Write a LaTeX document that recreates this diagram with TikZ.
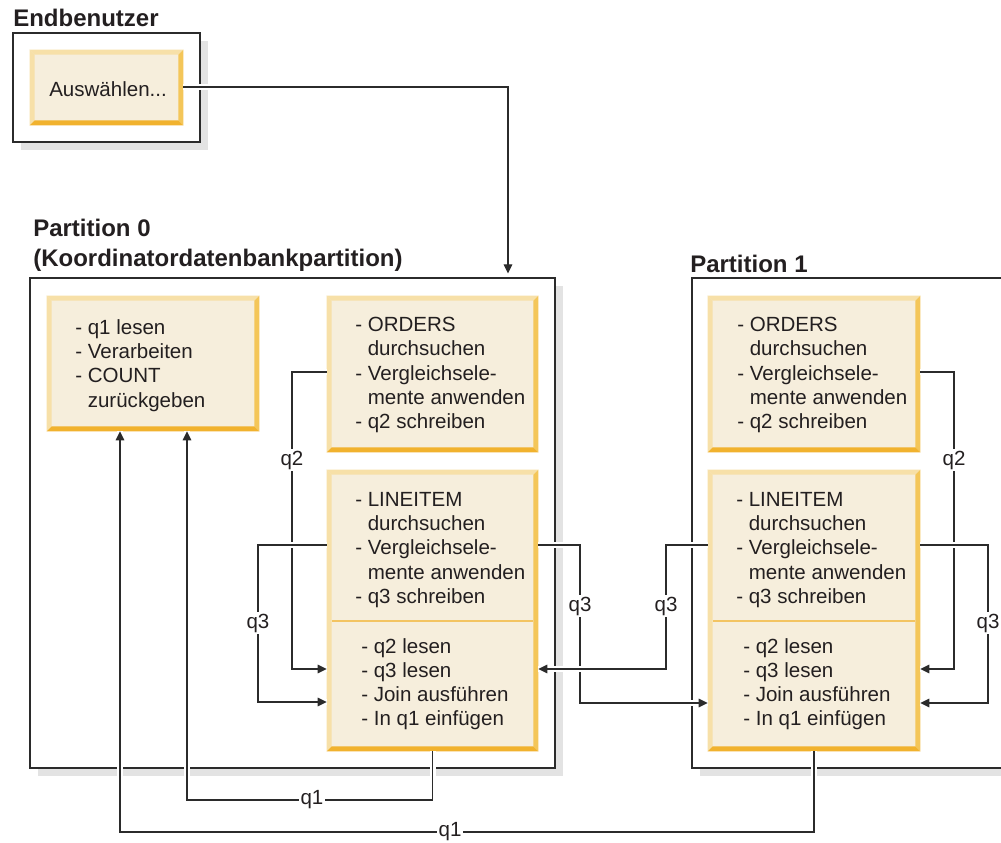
\documentclass[tikz,border=0pt]{standalone}
\usepackage{fontspec}
\setmainfont{Liberation Sans}
\usetikzlibrary{arrows.meta,calc,fit}
\definecolor{cream}{HTML}{F6EEDC}
\definecolor{bvlight}{HTML}{F7E0A8}
\definecolor{bvright}{HTML}{F4C659}
\definecolor{bvbot}{HTML}{F1B22E}
\definecolor{divc}{HTML}{F3C462}
\definecolor{shadowc}{HTML}{E3E3E3}
\definecolor{linec}{HTML}{2B2B2B}
\definecolor{txtc}{HTML}{231F20}
\tikzset{
  ybox/.style={fill=cream, draw=none, inner sep=0pt},
  part/.style={fill=white, draw=linec, line width=0.9pt, inner sep=0pt},
  txt/.style={font=\fontsize{15.4}{18.2}\selectfont, text=txtc, align=left, inner sep=0pt, anchor=north west},
  ttl/.style={font=\fontsize{18}{21.6}\selectfont\bfseries, text=txtc, inner sep=0pt, anchor=base west},
  halo/.style={draw=white, line width=4.5pt},
  conn/.style={draw=linec, line width=0.85pt},
  arr/.style={conn, -{Triangle[length=6.8pt,width=6.5pt]}},
  lbl/.style={font=\fontsize{15.4}{18.2}\selectfont, text=txtc, fill=white, inner sep=1.5pt},
}
\newcommand\bevel[1]{%
  \fill[bvlight] (#1.north west) -- (#1.north east) -- ($(#1.north east)+(-5,5)$) -- ($(#1.north west)+(5,5)$) -- cycle;
  \fill[bvlight] (#1.north west) -- ($(#1.north west)+(5,5)$) -- ($(#1.south west)+(5,-5)$) -- (#1.south west) -- cycle;
  \fill[bvright] (#1.north east) -- (#1.south east) -- ($(#1.south east)+(-5,-5)$) -- ($(#1.north east)+(-5,5)$) -- cycle;
  \fill[bvbot] (#1.south west) -- (#1.south east) -- ($(#1.south east)+(-5,-5)$) -- ($(#1.south west)+(5,-5)$) -- cycle;
}
\newcommand\dropshadow[4]{%
  \fill[shadowc] (#1+8,#2+8) rectangle (#3+8,#4+8);
}
\begin{document}
\begin{tikzpicture}[x=0.75pt,y=-0.75pt]
\useasboundingbox (0,0) rectangle (1001,843);
\clip (0,0) rectangle (1001,843);

% frames with shadows
\dropshadow{13}{33}{200}{142}
\dropshadow{30}{278}{555}{768}
\dropshadow{692}{278}{1020}{768}
\node[part, fit={(13,33) (200,142)}] (endb) {};
\node[part, fit={(30,278) (555,768)}] (p0) {};
\node[part, fit={(692,278) (1020,768)}] (p1) {};

% titles
\node[ttl] (tEndb) at (13,26) {Endbenutzer};
\node[ttl] (tP0a) at (33,236) {Partition 0};
\node[ttl] (tP0b) at (33,266) {(Koordinatordatenbankpartition)};
\node[ttl] (tP1) at (690,272) {Partition 1};

% yellow boxes
\node[ybox, fit={(30,50) (183,125)}] (ausw) {};
\node[ybox, fit={(47,296) (259,431)}] (q1b) {};
\node[ybox, fit={(327,296) (538,452)}] (ord0) {};
\node[ybox, fit={(327,470) (538,751)}] (li0) {};
\node[ybox, fit={(708,296) (920,452)}] (ord1) {};
\node[ybox, fit={(708,470) (920,751)}] (li1) {};
\draw[divc, line width=1pt] ($(li0.west|-0,621)+(5,0)$) -- ($(li0.east|-0,621)+(-5,0)$);
\draw[divc, line width=1pt] ($(li1.west|-0,621)+(5,0)$) -- ($(li1.east|-0,621)+(-5,0)$);
\bevel{ausw}\bevel{q1b}\bevel{ord0}\bevel{li0}\bevel{ord1}\bevel{li1}

% texts
\node[txt] (xAusw) at (49,81.3) {Auswählen...};
\node[txt] (xq1) at (75,319.3) {- q1 lesen\\- Verarbeiten\\- COUNT\\\hphantom{- }zurückgeben};
\node[txt] (xord0) at (355,317) {- ORDERS\\\hphantom{- }durchsuchen\\- Vergleichsele-\\\hphantom{- }mente anwenden\\- q2 schreiben};
\node[txt] (xli0a) at (355,492) {- LINEITEM\\\hphantom{- }durchsuchen\\- Vergleichsele-\\\hphantom{- }mente anwenden\\- q3 schreiben};
\node[txt] (xli0b) at (361,638) {- q2 lesen\\- q3 lesen\\- Join ausführen\\- In q1 einfügen};
\node[txt] (xord1) at (737,317) {- ORDERS\\\hphantom{- }durchsuchen\\- Vergleichsele-\\\hphantom{- }mente anwenden\\- q2 schreiben};
\node[txt] (xli1a) at (736,492) {- LINEITEM\\\hphantom{- }durchsuchen\\- Vergleichsele-\\\hphantom{- }mente anwenden\\- q3 schreiben};
\node[txt] (xli1b) at (743,638) {- q2 lesen\\- q3 lesen\\- Join ausführen\\- In q1 einfügen};

% connectors
\draw[halo] (ausw.east|-0,87) -| (508,0|-p0.north);
\draw[arr, shorten >=3pt] (ausw.east|-0,87) -| (508,0|-p0.north);

\draw[halo] (ord0.west|-0,372) -| (292,669) -- (li0.west|-0,669);
\draw[arr] (ord0.west|-0,372) -| (292,669) -- (li0.west|-0,669);
\draw[halo] (li0.west|-0,545) -| (258,702) -- (li0.west|-0,702);
\draw[arr] (li0.west|-0,545) -| (258,702) -- (li0.west|-0,702);

\draw[halo] (li0.east|-0,545) -| (580,703) -- (li1.west|-0,703);
\draw[arr] (li0.east|-0,545) -| (580,703) -- (li1.west|-0,703);
\draw[halo] (li1.west|-0,545) -| (666,669) -- (li0.east|-0,669);
\draw[arr] (li1.west|-0,545) -| (666,669) -- (li0.east|-0,669);

\draw[halo] (ord1.east|-0,372) -| (954,669) -- (li1.east|-0,669);
\draw[arr] (ord1.east|-0,372) -| (954,669) -- (li1.east|-0,669);
\draw[halo] (li1.east|-0,545) -| (988,703) -- (li1.east|-0,703);
\draw[arr] (li1.east|-0,545) -| (988,703) -- (li1.east|-0,703);

\draw[halo] (li0.south) |- (187,800) -- (187,0|-q1b.south);
\draw[arr] (li0.south) |- (187,800) -- (187,0|-q1b.south);
\draw[halo] (li1.south) |- (120,832) -- (120,0|-q1b.south);
\draw[arr] (li1.south) |- (120,832) -- (120,0|-q1b.south);

% labels
\node[lbl] (lq2a) at (292,460) {q2};
\node[lbl] (lq3a) at (258,623) {q3};
\node[lbl] (lq3b) at (580,606) {q3};
\node[lbl] (lq3c) at (666,606) {q3};
\node[lbl] (lq2b) at (954,460) {q2};
\node[lbl] (lq3d) at (988,623) {q3};
\node[lbl] (lq1a) at (312,800) {q1};
\node[lbl] (lq1b) at (450,832) {q1};
\end{tikzpicture}
\end{document}
